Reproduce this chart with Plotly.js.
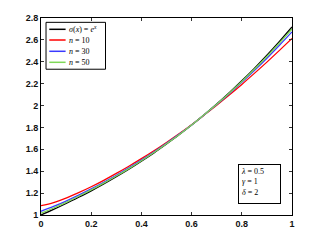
<!DOCTYPE html>
<html><head><meta charset="utf-8">
<script src="https://cdn.plot.ly/plotly-3.0.1.min.js"></script>
<style>body{margin:0;background:#fff}#c{width:317px;height:248px}</style>
</head><body><div id="c"></div>
<script>
const xs = [0,0.05,0.1,0.15,0.2,0.25,0.3,0.35,0.4,0.45,0.5,0.55,0.6,0.65,0.7,0.75,0.8,0.85,0.9,0.95,1];
const sigma = [1,1.051,1.105,1.162,1.221,1.284,1.350,1.419,1.492,1.568,1.649,1.733,1.822,1.916,2.014,2.117,2.226,2.340,2.460,2.586,2.718];
const n10 = [1.085,1.113,1.155,1.204,1.258,1.317,1.380,1.446,1.515,1.587,1.663,1.742,1.825,1.913,2.003,2.096,2.193,2.294,2.397,2.504,2.613];
const n30 = [1.034,1.078,1.127,1.181,1.238,1.299,1.363,1.431,1.502,1.576,1.655,1.737,1.823,1.915,2.009,2.108,2.212,2.320,2.433,2.551,2.673];
const n50 = [1.016,1.064,1.116,1.171,1.229,1.291,1.356,1.424,1.496,1.571,1.651,1.734,1.822,1.916,2.012,2.113,2.220,2.331,2.448,2.571,2.699];
const names = ['<i>σ</i>(<i>x</i>) = <i>e<sup>x</sup></i>','<i>n</i> = 10','<i>n</i> = 30','<i>n</i> = 50'];
const xTicks = [0,0.2,0.4,0.6,0.8,1];
const xTickText = ['0','0.2','0.4','0.6','0.8','1'];
const yTicks = [1,1.2,1.4,1.6,1.8,2,2.2,2.4,2.6,2.8];
const yTickText = ['1','1.2','1.4','1.6','1.8','2','2.2','2.4','2.6','2.8'];
const params = '<i>λ</i> = 0.5<br><i>γ</i> = 1<br><i>δ</i> = 2';

const colors = ['#000000','#ff0000','#3a3aff','#7fd858'];
const series = [sigma,n10,n30,n50];
const traces = series.map((s,i)=>({x:xs,y:s,type:'scatter',mode:'lines',name:names[i],showlegend:false,
  line:{color:colors[i],width:1.3,shape:'spline'}}));

const ax = {showgrid:false,zeroline:false,showline:true,linecolor:'#000',linewidth:1,mirror:'ticks',
  ticks:'inside',ticklen:3,tickcolor:'#333',tickfont:{family:'Liberation Sans, Arial',size:9,color:'#111',weight:'bold'}};

// custom compact legend (paper coordinates)
const lg = {x0:0.02,x1:0.257,y0:0.74,y1:0.978,lineX0:0.033,lineX1:0.098,textX:0.104,rows:[0.9426,0.8883,0.831,0.7751]};
const shapes = [{type:'rect',xref:'paper',yref:'paper',x0:lg.x0,x1:lg.x1,y0:lg.y0,y1:lg.y1,
  line:{color:'#000',width:1},fillcolor:'#fff',layer:'above'}];
const annotations = [];
names.forEach((nm,i)=>{
  shapes.push({type:'line',xref:'paper',yref:'paper',x0:lg.lineX0,x1:lg.lineX1,y0:lg.rows[i],y1:lg.rows[i],
    line:{color:colors[i],width:1.5},layer:'above'});
  annotations.push({xref:'paper',yref:'paper',x:lg.textX,y:lg.rows[i],xanchor:'left',yanchor:'middle',
    text:nm,showarrow:false,font:{family:'Liberation Serif, Times New Roman',size:8,color:'#000'}});
});
annotations.push({xref:'paper',yref:'paper',x:0.785,y:0.26,xanchor:'left',yanchor:'top',text:params,showarrow:false,
    align:'left',bordercolor:'#000',borderwidth:1,borderpad:2,bgcolor:'#fff',
    font:{family:'Liberation Serif, Times New Roman',size:8,color:'#000'},width:37,height:34,valign:'top'});

const layout = {
  width:317,height:248,margin:{l:41,r:25,t:18,b:33},
  paper_bgcolor:'#fff',plot_bgcolor:'#fff',showlegend:false,
  xaxis:Object.assign({},ax,{range:[0,1],tickvals:xTicks,ticktext:xTickText}),
  yaxis:Object.assign({},ax,{range:[1,2.8],tickvals:yTicks,ticktext:yTickText}),
  shapes:shapes,annotations:annotations
};
Plotly.newPlot('c',traces,layout,{displayModeBar:false,staticPlot:true});
</script></body></html>
